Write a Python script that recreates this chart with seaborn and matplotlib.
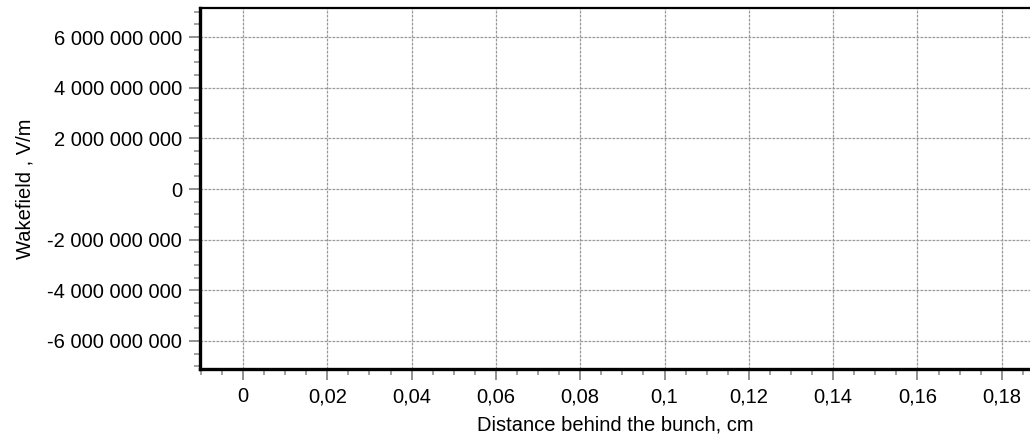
import matplotlib
matplotlib.use("Agg")
import matplotlib.pyplot as plt
import seaborn as sns
import pandas as pd
from matplotlib.ticker import FixedLocator, MultipleLocator, FixedFormatter

# Data (the reference chart contains no plotted series)
distance_cm = []
wakefield_vm = []

x_ticks = [0, 0.02, 0.04, 0.06, 0.08, 0.1, 0.12, 0.14, 0.16, 0.18]
x_tick_labels = ["0", "0,02", "0,04", "0,06", "0,08", "0,1", "0,12", "0,14", "0,16", "0,18"]
y_ticks = [-6e9, -4e9, -2e9, 0, 2e9, 4e9, 6e9]
y_tick_labels = ["-6 000 000 000", "-4 000 000 000", "-2 000 000 000", "0",
                 "2 000 000 000", "4 000 000 000", "6 000 000 000"]

sns.set_theme(style="white")
plt.rcParams['font.family'] = ['Liberation Sans', 'DejaVu Sans']

fig = plt.figure(figsize=(10.30, 4.36), dpi=100)
W, H = 1030, 436
ax = fig.add_axes([200 / W, (H - 369) / H, (1030 - 200) / W, (369 - 8) / H])

df = pd.DataFrame({"x": pd.Series(distance_cm, dtype=float),
                   "y": pd.Series(wakefield_vm, dtype=float)})
sns.lineplot(data=df, x="x", y="y", ax=ax)

ax.set_xlim(-0.0102, 0.1867)
ax.set_ylim(-7.11e9, 7.15e9)

ax.xaxis.set_major_locator(FixedLocator(x_ticks))
ax.xaxis.set_major_formatter(FixedFormatter(x_tick_labels))
ax.xaxis.set_minor_locator(MultipleLocator(0.005))
ax.yaxis.set_major_locator(FixedLocator(y_ticks))
ax.yaxis.set_major_formatter(FixedFormatter(y_tick_labels))
ax.yaxis.set_minor_locator(MultipleLocator(5e8))

ax.grid(True, which="major", color="#999999", linestyle=(0, (2.2, 1.0)), linewidth=0.9)

for s in ["left", "bottom"]:
    ax.spines[s].set_linewidth(2.4)
    ax.spines[s].set_color("black")
ax.spines["top"].set_linewidth(1.6)
ax.spines["top"].set_color("black")
ax.spines["right"].set_visible(False)

ax.tick_params(which="major", direction="out", length=8, width=1.3, color="#888888",
               labelsize=14.5, labelcolor="black", pad=5,
               bottom=True, left=True, top=False, right=False)
ax.tick_params(which="minor", direction="out", length=4.5, width=1.1, color="#888888",
               bottom=True, left=True, top=False, right=False)

ax.set_xlabel("Distance behind the bunch, cm", fontsize=14.5, labelpad=7, color="black")
ax.set_ylabel("Wakefield , V/m", fontsize=14.5, labelpad=9, color="black")

fig.savefig("out.png", dpi=100)
